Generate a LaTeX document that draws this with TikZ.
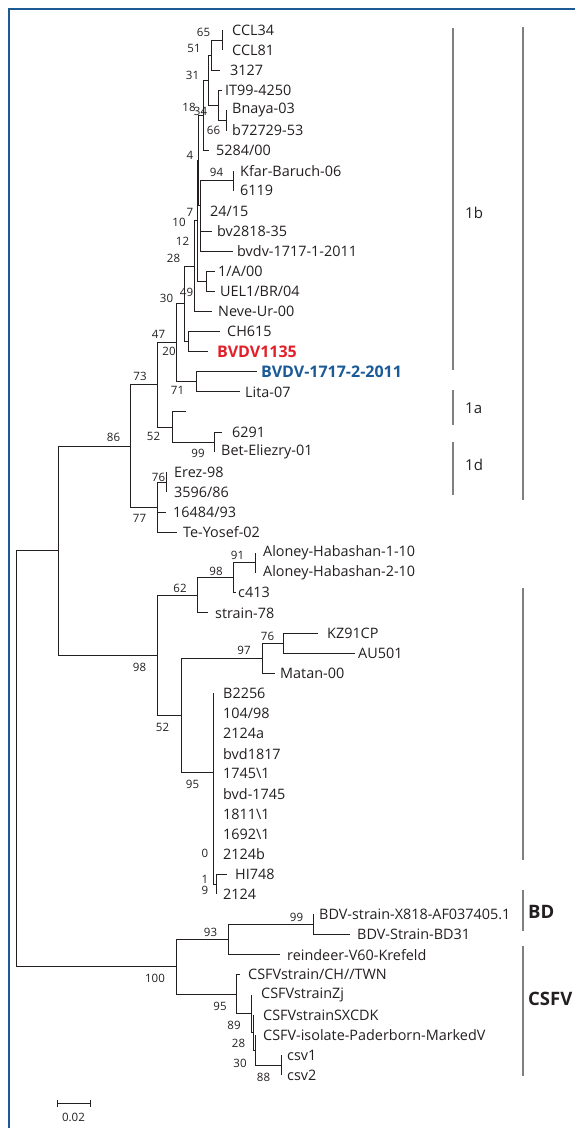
\documentclass[tikz,border=0pt]{standalone}
\usepackage{fontspec}
\setmainfont{Open Sans}
\definecolor{txt}{HTML}{231F20}
\definecolor{fblue}{HTML}{1D5A94}
\definecolor{hred}{HTML}{E2202A}
\definecolor{hblue}{HTML}{1A5A96}
\definecolor{bargray}{HTML}{808080}
\tikzset{
  br/.style={line width=1pt, txt},
  lf/.style={anchor=west, inner sep=0pt, font=\fontsize{14.4}{14.4}\selectfont, text=txt},
  lfred/.style={lf, font=\fontsize{16}{16}\selectfont\bfseries, text=hred},
  lfblue/.style={lf, font=\fontsize{16}{16}\selectfont\bfseries, text=hblue},
  bs/.style={inner sep=0pt, font=\fontsize{11.5}{11.5}\selectfont, text=txt},
  cbar/.style={line width=2.8pt, bargray},
  clab/.style={anchor=west, inner sep=0pt, font=\fontsize{15}{15}\selectfont, text=txt},
  cbold/.style={anchor=west, inner sep=0pt, font=\fontsize{18.5}{18.5}\selectfont\bfseries, text=txt},
  frame/.style={line width=2.4pt, fblue},
}
\begin{document}
\begin{tikzpicture}[x=1pt,y=-1pt]
\useasboundingbox (0,0) rectangle (575,1128);
% frame
\coordinate (fa) at (9,1128); \coordinate (fb) at (9,9); \coordinate (fc) at (575,9);
\draw[frame] (fa) -- (fb) -- (fc);

% ---- leaves: tips and labels
\coordinate (t0) at (222,30);      \node[lf] (l0) at (232,30) {CCL34};
\coordinate (t1) at (222,50.1);    \node[lf] (l1) at (232,50.1) {CCL81};
\coordinate (t2) at (220,70.2);    \node[lf] (l2) at (230,70.2) {3127};
\coordinate (t3) at (222,90.3);    \node[lf] (l3) at (225,90.3) {IT99-4250};
\coordinate (t4) at (226,110.4);   \node[lf] (l4) at (232,110.4) {Bnaya-03};
\coordinate (t5) at (226,130.5);   \node[lf] (l5) at (232,130.5) {b72729-53};
\coordinate (t6) at (209,150.6);   \node[lf] (l6) at (216,150.6) {5284/00};
\coordinate (t7) at (233,170.7);   \node[lf] (l7) at (240,170.7) {Kfar-Baruch-06};
\coordinate (t8) at (233,190.8);   \node[lf] (l8) at (240,190.8) {6119};
\coordinate (t9) at (200,210.9);   \node[lf] (l9) at (210,210.9) {24/15};
\coordinate (t10) at (212,231);    \node[lf] (l10) at (217,231) {bv2818-35};
\coordinate (t11) at (233,251.1);  \node[lf] (l11) at (237,251.1) {bvdv-1717-1-2011};
\coordinate (t12) at (215,271.2);  \node[lf] (l12) at (218,271.2) {1/A/00};
\coordinate (t13) at (215,291.3);  \node[lf] (l13) at (220,291.3) {UEL1/BR/04};
\coordinate (t14) at (212,311.4);  \node[lf] (l14) at (218,311.4) {Neve-Ur-00};
\coordinate (t15) at (220,331.5);  \node[lf] (l15) at (227,331.5) {CH615};
\coordinate (t16) at (208,351.6);  \node[lfred] (l16) at (217,351.6) {BVDV1135};
\coordinate (t17) at (257,371.7);  \node[lfblue] (l17) at (261,371.7) {BVDV-1717-2-2011};
\coordinate (t18) at (240,391.8);  \node[lf] (l18) at (245,391.8) {Lita-07};
\coordinate (t19) at (186,411.9);
\coordinate (t20) at (222,432);    \node[lf] (l20) at (232,432) {6291};
\coordinate (t21) at (214,452.1);  \node[lf] (l21) at (221,452.1) {Bet-Eliezry-01};
\coordinate (t22) at (166,472.2);  \node[lf] (l22) at (174,472.2) {Erez-98};
\coordinate (t23) at (166,492.3);  \node[lf] (l23) at (174,492.3) {3596/86};
\coordinate (t24) at (166,512.4);  \node[lf] (l24) at (173,512.4) {16484/93};
\coordinate (t25) at (177,532.5);  \node[lf] (l25) at (183,532.5) {Te-Yosef-02};
\coordinate (t26) at (255,552.6);  \node[lf] (l26) at (263,552.6) {Aloney-Habashan-1-10};
\coordinate (t27) at (255,572.7);  \node[lf] (l27) at (263,572.7) {Aloney-Habashan-2-10};
\coordinate (t28) at (236,592.8);  \node[lf] (l28) at (238,592.8) {c413};
\coordinate (t29) at (208,612.9);  \node[lf] (l29) at (215,612.9) {strain-78};
\coordinate (t30) at (318,633);    \node[lf] (l30) at (327,633) {KZ91CP};
\coordinate (t31) at (355,653.1);  \node[lf] (l31) at (358,653.1) {AU501};
\coordinate (t32) at (275,673.2);  \node[lf] (l32) at (280,673.2) {Matan-00};
\coordinate (t33) at (213,693.3);  \node[lf] (l33) at (223,693.3) {B2256};
\coordinate (t34) at (213,713.4);  \node[lf] (l34) at (223,713.4) {104/98};
\coordinate (t35) at (213,733.5);  \node[lf] (l35) at (223,733.5) {2124a};
\coordinate (t36) at (213,753.6);  \node[lf] (l36) at (223,753.6) {bvd1817};
\coordinate (t37) at (213,773.7);  \node[lf] (l37) at (223,773.7) {1745\textbackslash 1};
\coordinate (t38) at (213,793.8);  \node[lf] (l38) at (223,793.8) {bvd-1745};
\coordinate (t39) at (213,813.9);  \node[lf] (l39) at (223,813.9) {1811\textbackslash 1};
\coordinate (t40) at (213,834);    \node[lf] (l40) at (223,834) {1692\textbackslash 1};
\coordinate (t41) at (213,854.1);  \node[lf] (l41) at (223,854.1) {2124b};
\coordinate (t42) at (227,874.2);  \node[lf] (l42) at (235,874.2) {HI748};
\coordinate (t43) at (216,894.3);  \node[lf] (l43) at (223,894.3) {2124};
\coordinate (t44) at (313,914.4);  \node[lf] (l44) at (319,914.4) {BDV-strain-X818-AF037405.1};
\coordinate (t45) at (350,934.5);  \node[lf] (l45) at (357,934.5) {BDV-Strain-BD31};
\coordinate (t46) at (280,954.6);  \node[lf] (l46) at (287,954.6) {reindeer-V60-Krefeld};
\coordinate (t47) at (240,974.7);  \node[lf] (l47) at (248,974.7) {CSFVstrain/CH//TWN};
\coordinate (t48) at (251,994.8);  \node[lf] (l48) at (261,994.8) {CSFVstrainZj};
\coordinate (t49) at (253,1014.9); \node[lf] (l49) at (263,1014.9) {CSFVstrainSXCDK};
\coordinate (t50) at (255,1035);   \node[lf] (l50) at (263,1035) {CSFV-isolate-Paderborn-MarkedV};
\coordinate (t51) at (281,1055.1); \node[lf] (l51) at (287,1055.1) {csv1};
\coordinate (t52) at (281,1075.2); \node[lf] (l52) at (287,1075.2) {csv2};

% ---- internal nodes
\coordinate (n65) at (222,40.05);
\coordinate (n51) at (211,55.1);
\coordinate (n66) at (226,120.45);
\coordinate (n34) at (218,105.4);
\coordinate (n31) at (208,80.3);
\coordinate (n18) at (203,115.4);
\coordinate (n94) at (233,180.75);
\coordinate (n12) at (200,231);
\coordinate (n7) at (200,205.9);
\coordinate (n4) at (198,160.6);
\coordinate (n1A) at (206,281.25);
\coordinate (n10) at (197,220.9);
\coordinate (n28) at (194,266.2);
\coordinate (n20) at (188,341.55);
\coordinate (n30) at (184,303.9);
\coordinate (n71) at (196,381.75);
\coordinate (n47) at (176,342.8);
\coordinate (n99) at (214,442);
\coordinate (n52) at (172,427);
\coordinate (n73) at (157,384.9);
\coordinate (n76) at (166,482.25);
\coordinate (n77) at (157,507.4);
\coordinate (n86) at (130,446.1);
\coordinate (n91) at (255,562.65);
\coordinate (n98b) at (233,577.7);
\coordinate (n62) at (197,595.3);
\coordinate (n76b) at (283,643.05);
\coordinate (n97) at (262,658.1);
\coordinate (nhb) at (216,884.25);
\coordinate (n95) at (213,772);
\coordinate (n52b) at (181,715);
\coordinate (n98) at (157,655.2);
\coordinate (nB) at (58,550.6);
\coordinate (n99c) at (313,924.45);
\coordinate (n93) at (228,939.5);
\coordinate (n88) at (281,1065.15);
\coordinate (n30c) at (255,1050.1);
\coordinate (n28c) at (253,1032.5);
\coordinate (n89) at (251,1013.65);
\coordinate (n95c) at (236,994.2);
\coordinate (n100) at (176,966.85);
\coordinate (root) at (16,758.7);

% ---- branches
\foreach \p/\c in {n65/t0,n65/t1,n51/n65,n51/t2,n66/t4,n66/t5,n34/t3,n34/n66,
  n31/n51,n31/n34,n18/n31,n18/t6,n94/t7,n94/t8,n12/t9,n12/t10,n12/t11,
  n7/n94,n7/n12,n4/n18,n4/n7,n1A/t12,n1A/t13,n10/n4,n10/n1A,n28/n10,n28/t14,
  n20/t15,n20/t16,n30/n28,n30/n20,n71/t17,n71/t18,n47/n30,n47/n71,
  n99/t20,n99/t21,n52/t19,n52/n99,n73/n47,n73/n52,n76/t22,n76/t23,
  n77/n76,n77/t24,n77/t25,n86/n73,n86/n77,
  n91/t26,n91/t27,n98b/n91,n98b/t28,n62/n98b,n62/t29,n76b/t30,n76b/t31,
  n97/n76b,n97/t32,nhb/t42,nhb/t43,
  n95/t33,n95/t34,n95/t35,n95/t36,n95/t37,n95/t38,n95/t39,n95/t40,n95/t41,n95/nhb,
  n52b/n97,n52b/n95,n98/n62,n98/n52b,nB/n86,nB/n98,
  n99c/t44,n99c/t45,n93/n99c,n93/t46,n88/t51,n88/t52,n30c/t50,n30c/n88,
  n28c/t49,n28c/n30c,n89/t48,n89/n28c,n95c/t47,n95c/n89,n100/n93,n100/n95c,
  root/nB,root/n100}
  \draw[br] (\p) |- (\c);

% ---- bootstrap values
\node[bs] (b65) at (203.5,32) {65};
\node[bs] (b51) at (194,48) {51};
\node[bs] (b31) at (192.5,75) {31};
\node[bs] (b18) at (189,107) {18};
\node[bs] (b34) at (200.5,111) {34};
\node[bs] (b66) at (213.5,130) {66};
\node[bs] (b4) at (190,155) {4};
\node[bs] (b94) at (216.5,172) {94};
\node[bs] (b7) at (190,212) {7};
\node[bs] (b10) at (179,222) {10};
\node[bs] (b12) at (182.5,241) {12};
\node[bs] (b28) at (173.5,258) {28};
\node[bs] (b49) at (186.5,292) {49};
\node[bs] (b30) at (166.5,298) {30};
\node[bs] (b47) at (158.5,334) {47};
\node[bs] (b20) at (169,351) {20};
\node[bs] (b73) at (140,376) {73};
\node[bs] (b71) at (177.5,390) {71};
\node[bs] (b86) at (113.5,437) {86};
\node[bs] (b52) at (153.5,436) {52};
\node[bs] (b99) at (198,453) {99};
\node[bs] (b76) at (158.5,477) {76};
\node[bs] (b77) at (139.5,518) {77};
\node[bs] (b91) at (237.5,555) {91};
\node[bs] (b98b) at (216,571) {98};
\node[bs] (b62) at (180,588) {62};
\node[bs] (b76b) at (267.5,636) {76};
\node[bs] (b97) at (244,650) {97};
\node[bs] (b98) at (139.5,667) {98};
\node[bs] (b52b) at (162.5,727) {52};
\node[bs] (b95) at (192.5,784) {95};
\node[bs] (bz0) at (205,853) {0};
\node[bs] (bz1) at (205,879) {1};
\node[bs] (bz9) at (205,890) {9};
\node[bs] (b99c) at (296.5,917) {99};
\node[bs] (b93) at (210.5,932) {93};
\node[bs] (b100) at (155,978) {100};
\node[bs] (b95c) at (220,1006) {95};
\node[bs] (b89) at (234,1025) {89};
\node[bs] (b28c) at (238.5,1043) {28};
\node[bs] (b30c) at (240,1063) {30};
\node[bs] (b88) at (263.5,1077) {88};

% ---- clade bars
\coordinate (c1bt) at (453,28);  \coordinate (c1bb) at (453,370);
\coordinate (c1at) at (453,390); \coordinate (c1ab) at (453,425);
\coordinate (c1dt) at (453,442); \coordinate (c1db) at (453,495);
\coordinate (c1t) at (523,27);   \coordinate (c1b) at (523,500);
\coordinate (c2t) at (523,588);  \coordinate (c2b) at (523,860);
\coordinate (cbdt) at (523,890); \coordinate (cbdb) at (523,931);
\coordinate (ccst) at (523,946); \coordinate (ccsb) at (523,1076);
\draw[cbar] (c1bt) -- (c1bb);
\draw[cbar] (c1at) -- (c1ab);
\draw[cbar] (c1dt) -- (c1db);
\draw[cbar] (c1t) -- (c1b);
\draw[cbar] (c2t) -- (c2b);
\draw[cbar] (cbdt) -- (cbdb);
\draw[cbar] (ccst) -- (ccsb);
\node[clab] (k1b) at (465,213) {1b};
\node[clab] (k1a) at (465,408) {1a};
\node[clab] (k1d) at (465,465) {1d};
\node[cbold] (kbd) at (528,912) {BD};
\node[cbold] (kcs) at (528,999) {CSFV};

% ---- scale bar
\coordinate (sa) at (57,1103); \coordinate (sb) at (90,1103);
\draw[br] (sa) -- (sb);
\draw[br] ([yshift=-3.5pt]sa) -- ([yshift=3.5pt]sa);
\draw[br] ([yshift=-3.5pt]sb) -- ([yshift=3.5pt]sb);
\node[bs] (sl) at (73.5,1117) {0.02};
\end{tikzpicture}
\end{document}
